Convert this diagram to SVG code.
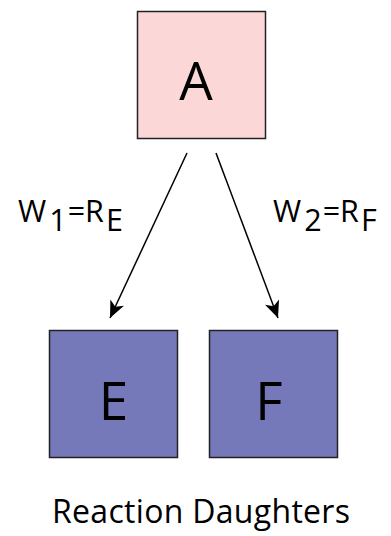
<svg xmlns="http://www.w3.org/2000/svg" width="391" height="536" viewBox="0 0 391 536">
<style>
.box{stroke:#222;stroke-width:1.5}
.lbl{font-family:"Open Sans","Liberation Sans",sans-serif;fill:#000}
.big{font-size:53px;text-anchor:middle}
.eq{font-size:30.5px}
.conn{stroke:#000;stroke-width:1.5;fill:none}
</style>
<defs>
<marker id="arr" viewBox="-18 -9 20 18" refX="0" refY="0" markerWidth="20" markerHeight="18" markerUnits="userSpaceOnUse" orient="auto">
<path d="M0,0 L-17,-7.5 L-12.5,0 L-17,7.5 Z" fill="#000"/>
</marker>
</defs>
<rect width="391" height="536" fill="#fff"/>
<g id="node-A">
<rect class="box" x="137.5" y="11.5" width="128" height="127" fill="#fbd7d8"/>
<text class="lbl big" x="196" y="100">A</text>
</g>
<g id="node-E">
<rect class="box" x="49.5" y="330.5" width="128" height="127" fill="#7579b9"/>
<text class="lbl big" x="113.5" y="420">E</text>
</g>
<g id="node-F">
<rect class="box" x="209.5" y="330.5" width="128" height="127" fill="#7579b9"/>
<text class="lbl big" x="269" y="420">F</text>
</g>
<g id="connectors">
<line class="conn" x1="187" y1="153" x2="110" y2="318" marker-end="url(#arr)"/>
<line class="conn" x1="216" y1="153" x2="278" y2="318" marker-end="url(#arr)"/>
</g>
<g id="labels">
<text class="lbl eq" x="18" y="222">W<tspan dx="3" dy="8.5">1</tspan><tspan dx="1" dy="-8.5">=R</tspan><tspan dx="2" dy="8.5">E</tspan></text>
<text class="lbl eq" x="273" y="222">W<tspan dx="3" dy="8.5">2</tspan><tspan dx="1" dy="-8.5">=R</tspan><tspan dx="2" dy="8.5">F</tspan></text>
<text class="lbl" x="201" y="523" font-size="32" text-anchor="middle" textLength="298" lengthAdjust="spacing">Reaction Daughters</text>
</g>
</svg>
